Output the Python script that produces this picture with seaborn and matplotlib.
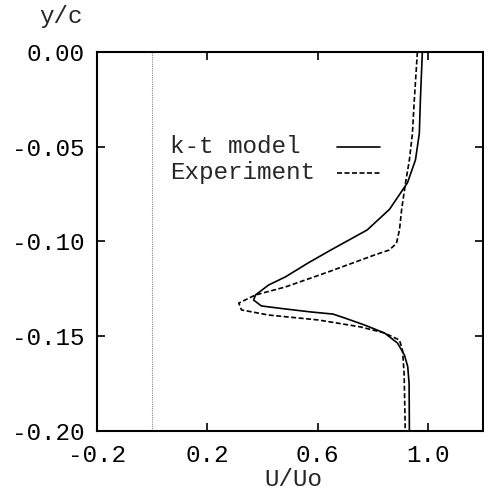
import matplotlib
matplotlib.use("Agg")
import matplotlib.pyplot as plt
from matplotlib.lines import Line2D
import seaborn as sns
import pandas as pd

model_y = [0.0, -0.025, -0.043, -0.057, -0.069, -0.083, -0.0939, -0.1045, -0.1113,
           -0.1187, -0.1230, -0.1282, -0.1309, -0.1340, -0.1356, -0.1372, -0.1383,
           -0.1404, -0.1441, -0.1483, -0.1536, -0.1599, -0.166, -0.175, -0.20]
model_x = [0.98, 0.973, 0.969, 0.955, 0.926, 0.861, 0.78, 0.648, 0.566,
           0.483, 0.422, 0.375, 0.368, 0.396, 0.483, 0.577, 0.656,
           0.699, 0.771, 0.843, 0.890, 0.915, 0.927, 0.932, 0.933]

exp_y = [0.0, -0.025, -0.043, -0.057, -0.069, -0.083, -0.0939, -0.1010, -0.1045,
         -0.1071, -0.1161, -0.1240, -0.1282, -0.1325, -0.1361, -0.1388, -0.1414,
         -0.1451, -0.1483, -0.1520, -0.1573, -0.17, -0.20]
exp_x = [0.962, 0.951, 0.944, 0.933, 0.919, 0.905, 0.897, 0.886, 0.860,
         0.807, 0.638, 0.483, 0.375, 0.314, 0.324, 0.422, 0.602,
         0.757, 0.843, 0.897, 0.908, 0.914, 0.918]

labels = ["k-t model", "Experiment"]
x_ticks = [-0.2, 0.2, 0.6, 1.0]
x_tick_labels = ["-0.2", "0.2", "0.6", "1.0"]
y_ticks = [0.0, -0.05, -0.10, -0.15, -0.20]
y_tick_labels = ["0.00", "-0.05", "-0.10", "-0.15", "-0.20"]

sns.set_style("ticks")
plt.rcParams["font.family"] = ["Liberation Mono", "DejaVu Sans Mono"]
FS = 17.5

df = pd.concat([
    pd.DataFrame({"U": model_x, "y": model_y, "s": labels[0]}),
    pd.DataFrame({"U": exp_x, "y": exp_y, "s": labels[1]}),
])

fig = plt.figure(figsize=(4.84, 4.92), dpi=100)
ax = fig.add_axes([97 / 484, 1 - 431 / 492, 386 / 484, 379 / 492])

ax.axvline(0.0, color="#888888", lw=0.8, ls=(0, (1, 1)), zorder=1)

dash_exp = (3, 1.5)
sns.lineplot(data=df, x="U", y="y", hue="s", style="s", sort=False, estimator=None,
             palette={labels[0]: "black", labels[1]: "black"},
             dashes={labels[0]: "", labels[1]: dash_exp},
             linewidth=1.2, ax=ax, legend=False)

ax.set_xlim(-0.2, 1.2)
ax.set_ylim(-0.2, 0.0)
ax.set_xticks(x_ticks)
ax.set_xticklabels(x_tick_labels)
ax.set_yticks(y_ticks)
ax.set_yticklabels(y_tick_labels)
ax.tick_params(direction="in", top=True, right=True, length=6, width=1.2,
               labelsize=FS, pad=9, colors="black")
for sp in ax.spines.values():
    sp.set_visible(True)
    sp.set_linewidth(1.5)
    sp.set_color("black")

ax.set_xlabel("")
ax.set_ylabel("")
fig.text(293 / 484, 1 - 480 / 492, "U/Uo", ha="center", va="center", fontsize=FS)
fig.text(61 / 484, 1 - 17 / 492, "y/c", ha="center", va="center", fontsize=FS)

# legend (gnuplot style: label left, sample right)
leg_x = (170 - 97) / 386
leg_y = [(431 - 147) / 379, (431 - 173) / 379]
line_x0, line_x1 = (337 - 97) / 386, (380 - 97) / 386
styles = ["-", (0, dash_exp)]
for lab, yy, st in zip(labels, leg_y, styles):
    ax.text(leg_x, yy, lab, transform=ax.transAxes, ha="left", va="center", fontsize=FS)
    ax.add_line(Line2D([line_x0, line_x1], [yy, yy], transform=ax.transAxes,
                       color="black", lw=1.2, ls=st))

fig.savefig("out.png", dpi=100, facecolor="white")
